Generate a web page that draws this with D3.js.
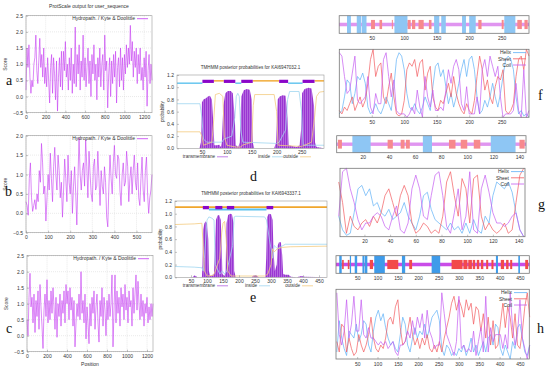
<!DOCTYPE html>
<html>
<head>
<meta charset="utf-8">
<script src="https://cdn.jsdelivr.net/npm/d3@7"></script>
<style>
  html, body { margin: 0; padding: 0; background: #fff; }
  svg { display: block; font-family: "Liberation Sans", Arial, sans-serif; }
</style>
</head>
<body>
<svg id="fig" width="550" height="373"></svg>
<script>
// ----------------------------------------------------------------
// 1. DATA
// ----------------------------------------------------------------

// Kyte & Doolittle hydropathy, one value every `step` residues
const hydroAStep = 10;
const hydroA = [0.2,1.5,0.9,1.6,0.6,0.1,0.5,0.3,1.0,1.2, 1.9,0.8,0.4,1.1,1.8,0.9,1.3,0.6,1.5,0.4,
  0.9,0.3,1.2,0.5,-0.2,0.9,1.3,0.1,1.2,0.7, -0.1,1.1,-0.45,0.6,1.2,0.3,1.4,0.2,1.4,0.8,
  1.7,0.6,1.0,0.2,1.2,0.5,1.5,0.1,1.0,0.4, 2.15,0.3,1.3,0.7,1.6,0.2,1.1,0.6,1.9,0.5,
  1.2,0.3,0.9,1.5,0.4,1.1,0.0,1.3,0.7,1.6, 0.5,1.0,-0.1,1.2,0.6,1.5,0.3,1.0,1.3,0.2,
  1.9,0.8,1.1,-0.35,0.7,1.2,0.0,1.1,0.4,1.3, 0.6,1.4,-0.2,0.9,1.2,0.3,1.5,0.5,1.2,0.2,
  1.3,0.7,1.6,0.9,1.5,1.0,2.2,1.1,1.7,0.6, 1.4,0.9,1.5,0.4,1.3,0.7,1.5,0.5,0.9,0.2,
  1.2,0.6,1.4,-0.3,0.8,1.3,0.4,1.0,0.5];

const hydroBStep = 5;
const hydroB = [0.3,0.2,-0.05,0.9,1.3,0.4,0.05,0.2,0.35,0.1, 0.5,0.3,1.1,0.8,1.8,1.3,0.5,0.7,-0.2,0.4,
  1.0,0.6,1.55,0.9,0.3,1.2,1.7,1.0,0.6,1.5, 1.1,0.4,0.8,-0.1,0.6,1.4,0.9,0.3,1.5,0.8,
  0.5,1.1,0.0,0.7,1.2,0.5,-0.3,0.9,1.95,1.0, 0.6,1.1,1.3,0.7,1.9,1.2,0.4,1.6,1.0,0.5,
  0.3,1.2,1.4,0.6,0.7,1.6,0.9,0.2,1.1,0.7, 0.5,1.2,0.8,-0.1,-0.35,0.7,1.5,0.9,0.5,1.3,
  1.75,1.0,0.9,1.5,1.4,0.6,0.2,1.0,1.3,0.7, 0.8,1.6,1.2,0.3,0.9,1.2,0.5,1.1,1.5,0.8,
  0.6,1.3,0.4,0.2,0.9,1.45,0.6,0.3,1.1,1.45, 0.5,0.0,0.4,0.6,1.0];

const hydroCStep = 10;
const hydroC = [0.5,0.0,1.2,1.95,0.9,1.2,0.4,1.3,0.1,1.1, 0.6,1.4,0.2,1.6,0.9,0.3,-0.4,0.8,1.3,0.6,
  1.75,0.4,1.1,0.5,1.4,0.7,1.5,0.9,0.2,1.2, -0.05,1.0,0.6,1.3,0.3,1.1,0.7,1.4,0.4,1.6,
  1.0,1.4,0.5,1.5,0.8,1.2,0.3,1.1,-0.35,0.4, 1.0,0.6,1.3,0.5,2.0,0.7,1.1,0.4,1.3,-0.1,
  0.9,0.4,-0.25,1.0,0.3,1.2,0.7,1.4,0.2,0.9, 1.3,0.4,-0.2,1.1,0.6,1.5,0.3,1.2,0.8,0.0,
  1.1,0.5,1.3,0.6,1.0,1.9,-0.35,0.8,1.9,0.4, 1.4,0.7,1.2,0.3,1.5,0.9,1.3,0.5,1.6,0.8,
  1.2,0.4,1.4,0.9,1.1,0.3,1.5,0.7,1.3,1.9, 0.8,1.7,1.0,0.5,1.3,0.6,1.1,0.3,1.0,0.7,
  1.2,0.4,0.9,0.5,1.0,0.6,1.0];

// TMHMM posterior probabilities: [position, probability]
const dTM = [[0,0],[45,0],[48,0.1],[50,0.75],[53,0.8],[58,0.82],[62,0.85],[66,0.86],[70,0.8],[73,0.4],[75,0.05],
  [80,0.05],[85,0.06],[88,0.02],[90,0.1],[93,0.7],[97,0.9],[102,0.94],[108,0.94],[112,0.9],[116,0.5],[118,0.05],
  [123,0.02],[126,0.1],[129,0.85],[134,0.95],[140,0.97],[146,0.96],[150,0.8],[152,0.1],[155,0],[195,0],
  [199,0.1],[202,0.8],[206,0.85],[212,0.87],[218,0.86],[222,0.5],[224,0.05],[240,0.02],[246,0.05],[249,0.3],
  [251,0.9],[256,0.97],[264,0.99],[270,0.98],[275,0.7],[277,0.1],[280,0.02],[295,0]];
const dInside = [[0,0.73],[46,0.73],[50,0.5],[53,0.15],[60,0.1],[90,0.1],[94,0.15],[110,0.2],[116,0.5],
  [119,0.85],[122,0.9],[125,0.85],[128,0.3],[132,0.1],[200,0.08],[205,0.1],[218,0.3],[222,0.8],[226,0.93],
  [245,0.93],[250,0.6],[253,0.05],[295,0.05]];
const dOutside = [[0,0.27],[46,0.27],[50,0.2],[53,0.05],[70,0.1],[74,0.5],[77,0.88],[85,0.9],[92,0.85],
  [95,0.2],[100,0.05],[118,0.02],[128,0.02],[131,0.05],[150,0.1],[153,0.7],[156,0.88],[195,0.88],[200,0.6],
  [203,0.05],[250,0.03],[270,0.1],[276,0.5],[280,0.85],[286,0.92],[295,0.93]];
const dTopo = [["in",0,51],["tm",51,74],["out",74,94],["tm",94,117],["in",117,129],["tm",129,152],
  ["out",152,205],["tm",205,223],["in",223,252],["tm",252,276],["out",276,295]];

const eTM = [[0,0],[55,0],[60,0.03],[65,0.02],[70,0],[84,0],[86,0.2],[88,0.75],[92,0.85],[96,0.88],[100,0.85],
  [104,0.6],[106,0.1],[110,0.02],[122,0.05],[125,0.5],[128,0.9],[133,0.97],[138,0.98],[143,0.9],[146,0.5],
  [148,0.05],[155,0.02],[158,0.1],[161,0.85],[166,0.98],[172,1.0],[178,0.99],[183,0.85],[185,0.1],[190,0],
  [240,0],[245,0.03],[255,0.03],[262,0],[282,0],[285,0.3],[288,0.95],[293,1.0],[300,0.99],[305,0.9],[308,0.4],
  [312,0.1],[318,0.2],[321,0.5],[325,0.55],[331,0.55],[335,0.35],[338,0.05],[345,0.04],[355,0.04],[362,0.01],
  [380,0],[395,0.02],[405,0.01],[475,0]];
const eInside = [[0,0.17],[60,0.16],[84,0.15],[88,0.1],[92,0.3],[100,0.9],[106,0.95],[115,0.93],[122,0.9],
  [126,0.2],[140,0.05],[148,0.1],[155,0.05],[162,0.1],[180,0.5],[185,0.95],[190,0.96],[280,0.95],[286,0.9],
  [295,0.6],[305,0.3],[310,0.5],[320,0.45],[338,0.5],[345,0.52],[475,0.52]];
const eOutside = [[0,0.83],[60,0.84],[84,0.85],[88,0.5],[92,0.1],[100,0.02],[120,0.03],[126,0.1],[140,0.3],
  [146,0.7],[150,0.85],[155,0.88],[160,0.6],[165,0.1],[175,0.02],[280,0.02],[290,0.05],[300,0.2],[305,0.45],
  [310,0.4],[320,0.45],[335,0.47],[360,0.48],[475,0.49]];
const eTopo = [["out",0,475],["in",106,286],["tm",87,106],["tm",126,148],["tm",162,185],["tm",286,307]];

// secondary structure (SOPMA-like): bars [start, end] and probability curves
const fHelixSeg = [[12,18],[27,34],[35,42],[85,105],[146,154],[157,164],[189,195],[200,210],[254,271]];
const fSheetSeg = [[49,55],[62,66],[81,82],[105,110],[112,117],[122,130],[138,142],[214,219],[250,253],[274,281],[285,290]];
const fStep = 4;
const fHelix = [0.05,0.1,0.3,0.55,0.5,0.2,0.35,0.6,0.55,0.65,0.5,0.15,0.05,0.1,0.2,0.1,0.05,0.15,0.3,0.2,
  0.1,0.45,0.85,0.95,0.9,0.7,0.35,0.15,0.1,0.2,0.1,0.05,0.15,0.3,0.2,0.1,0.45,0.75,0.8,0.6,
  0.7,0.45,0.2,0.35,0.15,0.3,0.5,0.7,0.85,0.6,0.85,0.9,0.7,0.3,0.05,0.1,0.25,0.15,0.3,0.5,
  0.3,0.15,0.35,0.6,0.85,0.9,0.85,0.7,0.3,0.05,0.1,0.02,0.05,0.0];
const fSheet = [0.1,0.05,0.15,0.1,0.2,0.3,0.1,0.2,0.3,0.15,0.25,0.5,0.85,1.0,0.6,0.75,0.8,0.3,0.2,0.45,
  0.65,0.3,0.05,0.02,0.05,0.25,0.7,0.8,0.75,0.85,0.6,0.8,0.85,0.4,0.65,0.75,0.3,0.15,0.1,0.25,
  0.2,0.35,0.5,0.3,0.6,0.35,0.2,0.1,0.05,0.2,0.1,0.05,0.25,0.6,0.9,0.7,0.4,0.55,0.3,0.2,
  0.45,0.6,0.55,0.7,0.1,0.05,0.1,0.2,0.6,0.85,0.9,0.7,1.0,0.9];
const fCoil = [0.95,0.9,0.6,0.35,0.4,0.65,0.9,0.25,0.2,0.25,0.3,0.6,0.15,0.05,0.35,0.2,0.2,0.85,0.95,0.6,
  0.3,0.55,0.1,0.05,0.05,0.05,0.0,0.05,0.15,0.05,0.4,0.15,0.0,0.6,0.3,0.15,0.4,0.1,0.1,0.15,
  0.1,0.4,0.7,0.5,0.75,0.85,0.7,0.2,0.1,0.45,0.05,0.05,0.05,0.3,0.05,0.7,0.85,0.6,0.9,0.75,
  0.6,0.75,0.3,0.0,0.05,0.05,0.05,0.1,0.5,0.1,0.0,0.7,0.0,0.1];

const gHelixSeg = [[12,26],[66,73],[118,137]];
const gSheetSeg = [[1,4],[39,43],[49,52],[53,56],[86,91],[95,100],[105,110],[140,144]];
const gStep = 3;
const gHelix = [0.3,0.1,0.02,0.05,0.35,0.7,0.75,0.6,0.7,0.45,0.5,0.35,0.3,0.4,0.25,0.3,0.35,0.5,0.3,0.2,
  0.1,0.3,0.6,0.65,0.4,0.25,0.2,0.15,0.1,0.2,0.1,0.15,0.05,0.2,0.05,0.25,0.1,0.05,0.3,0.2,
  0.6,0.8,0.75,0.7,0.8,0.65,0.35,0.1,0.0];
const gSheet = [0.8,0.5,0.05,0.3,0.15,0.1,0.2,0.25,0.15,0.3,0.2,0.35,0.6,0.7,0.5,0.3,0.6,0.75,0.6,0.2,
  0.05,0.1,0.2,0.15,0.05,0.1,0.05,0.3,0.8,0.95,0.6,0.3,0.85,0.7,0.2,0.85,0.9,0.3,0.1,0.2,
  0.1,0.05,0.1,0.2,0.05,0.1,0.5,0.9,1.0];
const gCoil = [0.3,0.95,1.0,0.7,0.5,0.25,0.1,0.2,0.2,0.3,0.35,0.3,0.15,0.1,0.3,0.45,0.1,0.05,0.2,0.7,
  0.9,0.7,0.3,0.25,0.6,0.9,0.95,0.6,0.15,0.05,0.35,0.7,0.1,0.3,0.95,0.1,0.05,0.7,0.9,0.65,
  0.35,0.2,0.2,0.15,0.2,0.3,0.35,0.1,0.0];

const hHelixSeg = [[6,12],[32,35],[44,50],[63,68],[69,75],[92,118],[160,168],[233,254],[391,396],[446,450]];
const hSheetSeg = [[13,17],[27,31],[81,89],[124,151],[178,185],[282,309],[311,321],[323,332],[334,340],
  [344,350],[354,360],[367,372],[380,385],[403,411],[416,422],[426,431],[463,470]];
const hStep = 6;
const hHelix = [0.1,0.55,0.3,0.15,0.05,0.4,0.35,0.3,0.5,0.25,0.35,0.55,0.5,0.2,0.1,0.4,0.6,0.7,0.55,0.65,
  0.45,0.3,0.2,0.25,0.15,0.1,0.35,0.6,0.5,0.2,0.1,0.3,0.45,0.3,0.4,0.35,0.5,0.3,0.45,0.6,
  0.65,0.7,0.55,0.15,0.05,0.2,0.15,0.05,0.1,0.05,0.15,0.1,0.2,0.05,0.15,0.3,0.1,0.2,0.05,0.15,
  0.25,0.1,0.3,0.35,0.2,0.5,0.45,0.15,0.05,0.2,0.1,0.0,0.25,0.15,0.45,0.5,0.3,0.1,0.05,0.2];
const hSheet = [0.25,0.1,0.5,0.45,0.1,0.3,0.15,0.05,0.1,0.35,0.2,0.1,0.2,0.35,0.6,0.3,0.15,0.1,0.2,0.15,
  0.3,0.55,0.6,0.5,0.75,0.85,0.45,0.2,0.25,0.4,0.6,0.35,0.2,0.3,0.15,0.3,0.2,0.35,0.15,0.1,
  0.2,0.1,0.25,0.1,0.3,0.45,0.6,0.8,0.9,0.7,0.85,0.75,0.6,0.85,0.7,0.8,0.5,0.75,0.7,0.4,
  0.65,0.3,0.6,0.2,0.55,0.15,0.2,0.5,0.8,0.45,0.75,0.6,0.3,0.65,0.2,0.15,0.4,0.75,0.95,0.6];
const hCoil = [0.95,0.35,0.2,0.4,0.85,0.3,0.5,0.9,0.4,0.4,0.85,0.35,0.3,0.45,0.3,0.3,0.25,0.2,0.25,0.2,
  0.25,0.15,0.2,0.25,0.1,0.05,0.2,0.2,0.25,0.4,0.3,0.55,0.35,0.6,0.45,0.65,0.3,0.7,0.4,0.3,
  0.15,0.2,0.2,0.95,0.65,0.35,0.25,0.15,0.05,0.25,0.9,0.15,0.2,0.1,0.15,0.1,0.4,0.05,0.25,0.45,
  0.1,0.9,0.1,0.45,0.25,0.35,0.35,0.35,0.15,0.35,0.15,0.95,0.45,0.2,0.35,0.85,0.3,0.15,0.0,0.2];

// ----------------------------------------------------------------
// 2. SVG + SHARED HELPERS
// ----------------------------------------------------------------
const svg = d3.select("#fig");
const tickFont = 5;
const plain = d3.format("d"); // no thousands comma on 1000 / 1200

// stripe pattern for the TMHMM transmembrane fill (gnuplot impulses look)
svg.append("defs").append("pattern")
  .attr("id", "tmFill").attr("width", 2).attr("height", 4).attr("patternUnits", "userSpaceOnUse")
  .call(p => {
    p.append("rect").attr("width", 2).attr("height", 4).attr("fill", "#c48ae8");
    p.append("rect").attr("width", 1.4).attr("height", 4).attr("fill", "#9a36d2");
  });

function styleAxis(sel) {
  sel.select(".domain").remove();
  sel.selectAll(".tick line").attr("stroke", "#888").attr("stroke-width", 0.5);
  sel.selectAll(".tick text").attr("fill", "#333").attr("font-size", tickFont);
}

function panelLetter(txt, x, y) {
  svg.append("text").attr("x", x).attr("y", y).text(txt)
    .attr("font-family", "'Liberation Serif', 'DejaVu Serif', serif")
    .attr("font-size", 14).attr("fill", "#111");
}

// ----------------------------------------------------------------
// 3. HYDROPATHY PANELS (a, b, c)
// ----------------------------------------------------------------
function hydroPanel(p) {
  const x = d3.scaleLinear().domain(p.xDomain).range([p.left, p.right]);
  const y = d3.scaleLinear().domain(p.yDomain).range([p.bottom, p.top]);
  const g = svg.append("g");

  // dotted grid
  g.append("g").selectAll("line").data(p.xTicks).join("line")
    .attr("x1", d => x(d)).attr("x2", d => x(d)).attr("y1", p.top).attr("y2", p.bottom);
  g.append("g").selectAll("line").data(p.yTicks).join("line")
    .attr("x1", p.left).attr("x2", p.right).attr("y1", d => y(d)).attr("y2", d => y(d));
  g.selectAll("line").attr("stroke", "#d4d4d4").attr("stroke-width", 0.5).attr("stroke-dasharray", "1,1");

  const line = d3.line().x((d, i) => x(i * p.step)).y(d => y(d));
  g.append("path").datum(p.values).attr("d", line)
    .attr("fill", "none").attr("stroke", "#c43af2").attr("stroke-width", 0.7).attr("stroke-opacity", 0.85);

  g.append("rect").attr("x", p.left).attr("y", p.top)
    .attr("width", p.right - p.left).attr("height", p.bottom - p.top)
    .attr("fill", "none").attr("stroke", "#999").attr("stroke-width", 0.6);

  g.append("g").attr("transform", `translate(0,${p.bottom})`)
    .call(d3.axisBottom(x).tickValues(p.xTicks).tickFormat(plain).tickSize(-2).tickPadding(2.5)).call(styleAxis);
  g.append("g").attr("transform", `translate(${p.left},0)`)
    .call(d3.axisLeft(y).tickValues(p.yTicks).tickSize(-2).tickPadding(3)).call(styleAxis);

  // y label
  g.append("text").attr("transform", `translate(${p.left - 19},${(p.top + p.bottom) / 2}) rotate(-90)`)
    .attr("text-anchor", "middle").attr("font-size", tickFont).attr("fill", "#333").text("Score");

  // legend
  g.append("text").attr("x", p.left + 109).attr("y", p.top + 4.5).attr("text-anchor", "end")
    .attr("font-size", tickFont).attr("fill", "#333").text("Hydropath. / Kyte & Doolittle");
  g.append("line").attr("x1", p.left + 111).attr("x2", p.left + 122)
    .attr("y1", p.top + 3).attr("y2", p.top + 3).attr("stroke", "#c43af2").attr("stroke-width", 0.8);

  if (p.xLabel) {
    g.append("text").attr("x", (p.left + p.right) / 2).attr("y", p.bottom + 14)
      .attr("text-anchor", "middle").attr("font-size", tickFont).attr("fill", "#333").text(p.xLabel);
  }
}

svg.append("text").attr("x", 89).attr("y", 7.5).attr("text-anchor", "middle")
  .attr("font-size", tickFont).attr("fill", "#333").text("ProtScale output for user_sequence");

hydroPanel({ left: 26, right: 152, top: 15.7, bottom: 112.7, xDomain: [0, 1280], yDomain: [-0.5, 2.5],
  xTicks: [0, 200, 400, 600, 800, 1000, 1200], yTicks: [-0.5, 0, 0.5, 1, 1.5, 2, 2.5],
  values: hydroA, step: hydroAStep });
hydroPanel({ left: 26, right: 152, top: 135.7, bottom: 232.7, xDomain: [0, 570], yDomain: [-0.5, 2],
  xTicks: [0, 100, 200, 300, 400, 500], yTicks: [-0.5, 0, 0.5, 1, 1.5, 2],
  values: hydroB, step: hydroBStep });
hydroPanel({ left: 27, right: 153, top: 255.7, bottom: 351.7, xDomain: [0, 1260], yDomain: [-0.5, 2.5],
  xTicks: [0, 200, 400, 600, 800, 1000, 1200], yTicks: [-0.5, 0, 0.5, 1, 1.5, 2, 2.5],
  values: hydroC, step: hydroCStep, xLabel: "Position" });

panelLetter("a", 6, 85);
panelLetter("b", 5, 196);
panelLetter("c", 6, 333);

// ----------------------------------------------------------------
// 4. TMHMM PANELS (d, e)
// ----------------------------------------------------------------
function tmPanel(p) {
  const x = d3.scaleLinear().domain(p.xDomain).range([p.left, p.right]);
  const y = d3.scaleLinear().domain([0, 1.2]).range([p.bottom, p.top]);
  const g = svg.append("g");

  g.append("text").attr("x", (p.left + p.right) / 2).attr("y", p.top - 6).attr("text-anchor", "middle")
    .attr("font-size", 4.6).attr("fill", "#333").text(p.title);

  const area = d3.area().x(d => x(d[0])).y0(y(0)).y1(d => y(d[1]));
  g.append("path").datum(p.tm).attr("d", area).attr("fill", "url(#tmFill)");

  const line = d3.line().x(d => x(d[0])).y(d => y(d[1]));
  g.append("path").datum(p.inside).attr("d", line).attr("fill", "none").attr("stroke", "#9fd6f0").attr("stroke-width", 0.8);
  g.append("path").datum(p.outside).attr("d", line).attr("fill", "none").attr("stroke", "#f4cb80").attr("stroke-width", 0.8);

  // topology bar along the top
  const lvl = { in: 1.066, out: 1.104 };
  const col = { in: "#5dc2ee", out: "#f0a62c" };
  p.topo.filter(s => s[0] !== "tm").forEach(s => {
    g.append("line").attr("x1", x(s[1])).attr("x2", x(s[2])).attr("y1", y(lvl[s[0]])).attr("y2", y(lvl[s[0]]))
      .attr("stroke", col[s[0]]).attr("stroke-width", p.barWidth);
  });
  p.topo.filter(s => s[0] === "tm").forEach(s => {
    g.append("rect").attr("x", x(s[1])).attr("width", x(s[2]) - x(s[1]))
      .attr("y", y(1.122)).attr("height", y(1.07) - y(1.122)).attr("fill", "#8a06c8");
  });

  g.append("rect").attr("x", p.left).attr("y", p.top)
    .attr("width", p.right - p.left).attr("height", p.bottom - p.top)
    .attr("fill", "none").attr("stroke", "#999").attr("stroke-width", 0.6);

  g.append("g").attr("transform", `translate(0,${p.bottom})`)
    .call(d3.axisBottom(x).tickValues(p.xTicks).tickSize(-2).tickPadding(2.5)).call(styleAxis);
  g.append("g").attr("transform", `translate(${p.left},0)`)
    .call(d3.axisLeft(y).tickValues([0, 0.2, 0.4, 0.6, 0.8, 1, 1.2]).tickSize(-2).tickPadding(3)).call(styleAxis);

  g.append("text").attr("transform", `translate(${p.left - 13},${(p.top + p.bottom) / 2}) rotate(-90)`)
    .attr("text-anchor", "middle").attr("font-size", 4.6).attr("fill", "#333").text("probability");

  // legend under the plot
  const ly = p.bottom + 8.5;
  p.legend.forEach(l => {
    g.append("text").attr("x", l.x).attr("y", ly + 1.6).attr("text-anchor", "end")
      .attr("font-size", 4.6).attr("fill", "#333").text(l.label);
    g.append("line").attr("x1", l.x + 2).attr("x2", l.x + 13).attr("y1", ly).attr("y2", ly)
      .attr("stroke", l.color).attr("stroke-width", 0.8);
  });
}

tmPanel({ left: 177, right: 324, top: 75, bottom: 148.3, xDomain: [0, 295],
  xTicks: [50, 100, 150, 200, 250], title: "TMHMM posterior probabilities for KAI6947032.1",
  tm: dTM, inside: dInside, outside: dOutside, topo: dTopo, barWidth: 1.4,
  legend: [{ x: 215, label: "transmembrane", color: "#b060e0" },
           { x: 270, label: "inside", color: "#9fd6f0" },
           { x: 298, label: "outside", color: "#f4cb80" }] });
tmPanel({ left: 175, right: 327, top: 201, bottom: 277.3, xDomain: [0, 475],
  xTicks: [50, 100, 150, 200, 250, 300, 350, 400, 450], title: "TMHMM posterior probabilities for KAI6943337.1",
  tm: eTM, inside: eInside, outside: eOutside, topo: eTopo, barWidth: 1.8,
  legend: [{ x: 215, label: "transmembrane", color: "#b060e0" },
           { x: 257, label: "inside", color: "#9fd6f0" },
           { x: 300, label: "outside", color: "#f4cb80" }] });

panelLetter("d", 250, 181);
panelLetter("e", 250, 302);

// ----------------------------------------------------------------
// 5. SECONDARY STRUCTURE PANELS (f, g, h)
// ----------------------------------------------------------------
function ssPanel(p) {
  const g = svg.append("g");

  // --- top bar ---
  const xt = d3.scaleLinear().domain(p.barDomain).range([p.barLeft, p.barRight]);
  const bh = p.barBottom - p.barTop;
  g.append("rect").attr("x", p.barLeft).attr("y", p.barTop + bh * 0.40)
    .attr("width", p.barRight - p.barLeft).attr("height", bh * 0.2).attr("fill", p.cCoilBar);
  g.append("g").selectAll("rect").data(p.sheetSeg).join("rect")
    .attr("x", d => xt(d[0])).attr("width", d => Math.max(1, xt(d[1]) - xt(d[0])))
    .attr("y", p.barTop + bh * 0.24).attr("height", bh * 0.52).attr("fill", p.cSheetBar);
  g.append("g").selectAll("rect").data(p.helixSeg).join("rect")
    .attr("x", d => xt(d[0])).attr("width", d => Math.max(1, xt(d[1]) - xt(d[0])))
    .attr("y", p.barTop).attr("height", bh).attr("fill", p.cHelixBar);
  g.append("rect").attr("x", p.barLeft).attr("y", p.barTop)
    .attr("width", p.barRight - p.barLeft).attr("height", bh)
    .attr("fill", "none").attr("stroke", "#777").attr("stroke-width", 0.8);
  g.append("g").attr("transform", `translate(0,${p.barBottom})`)
    .call(d3.axisBottom(xt).tickValues(p.xTicks).tickSize(0).tickPadding(3)).call(styleAxis);

  // --- probability curves ---
  const x = d3.scaleLinear().domain(p.xDomain).range([p.left, p.right]);
  const y = d3.scaleLinear().domain([0, 1]).range([p.bottom, p.top]);
  const line = d3.line().x((d, i) => x(p.start + i * p.step)).y(d => y(d));
  const series = [
    { label: "Helix", values: p.helix, color: "#5eb0f6" },
    { label: "Sheet", values: p.sheet, color: "#f25a5e" },
    { label: "Coil",  values: p.coil,  color: "#c45cf0" }
  ];
  series.forEach(s => {
    g.append("path").datum(s.values).attr("d", line)
      .attr("fill", "none").attr("stroke", s.color).attr("stroke-width", 0.7);
  });
  g.append("rect").attr("x", p.left).attr("y", p.top)
    .attr("width", p.right - p.left).attr("height", p.bottom - p.top)
    .attr("fill", "none").attr("stroke", "#777").attr("stroke-width", 0.8);
  g.append("g").attr("transform", `translate(0,${p.bottom})`)
    .call(d3.axisBottom(x).tickValues(p.xTicks).tickSize(-2).tickPadding(3)).call(styleAxis);

  series.forEach((s, i) => {
    const ly = p.top + 3.3 + i * 6.2;
    g.append("text").attr("x", p.legendX).attr("y", ly + 1.7).attr("text-anchor", "end")
      .attr("font-size", tickFont).attr("fill", "#333").text(s.label);
    g.append("line").attr("x1", p.legendX + 2).attr("x2", p.legendX + 15).attr("y1", ly).attr("y2", ly)
      .attr("stroke", s.color).attr("stroke-width", 0.8);
  });
}

const lightBars = { cHelixBar: "#8ec6f4", cSheetBar: "#f7898d", cCoilBar: "#e095f0" };
const darkBars = { cHelixBar: "#3e9bea", cSheetBar: "#f24a4a", cCoilBar: "#c94ce8" };

ssPanel(Object.assign({
  barLeft: 339.2, barRight: 529, barTop: 15.7, barBottom: 33.3, barDomain: [0, 292],
  left: 339.3, right: 529, top: 49.3, bottom: 117.3, xDomain: [0, 292], start: 0,
  xTicks: [50, 100, 150, 200, 250], helixSeg: fHelixSeg, sheetSeg: fSheetSeg,
  step: fStep, helix: fHelix, sheet: fSheet, coil: fCoil, legendX: 511
}, lightBars));
ssPanel(Object.assign({
  barLeft: 336.7, barRight: 526, barTop: 135.7, barBottom: 152.7, barDomain: [0, 145],
  left: 340, right: 525, top: 168.3, bottom: 236.7, xDomain: [1, 145], start: 0,
  xTicks: [20, 40, 60, 80, 100, 120, 140], helixSeg: gHelixSeg, sheetSeg: gSheetSeg,
  step: gStep, helix: gHelix, sheet: gSheet, coil: gCoil, legendX: 509
}, lightBars));
ssPanel(Object.assign({
  barLeft: 336, barRight: 529.3, barTop: 255.7, barBottom: 273.3, barDomain: [-2, 473],
  left: 336, right: 529.3, top: 289.3, bottom: 359, xDomain: [-2, 473], start: 0,
  xTicks: [50, 100, 150, 200, 250, 300, 350, 400, 450], helixSeg: hHelixSeg, sheetSeg: hSheetSeg,
  step: hStep, helix: hHelix, sheet: hSheet, coil: hCoil, legendX: 512
}, darkBars));

panelLetter("f", 538, 100);
panelLetter("g", 538, 209);
panelLetter("h", 537, 333);
</script>
</body>
</html>
